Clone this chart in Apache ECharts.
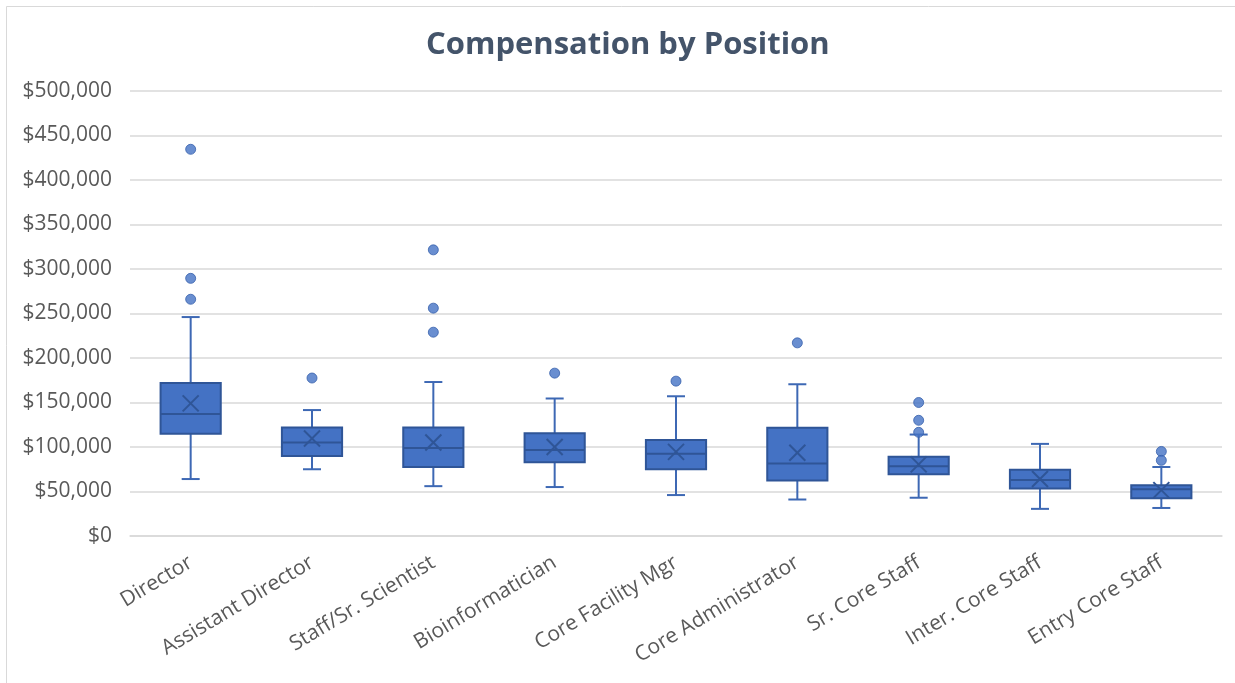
<!DOCTYPE html>
<html>
<head>
<meta charset="utf-8">
<script src="https://cdn.jsdelivr.net/npm/echarts@6/dist/echarts.min.js"></script>
<style>
  html, body { margin: 0; padding: 0; background: #ffffff; }
  #chart { width: 1235px; height: 683px; }
</style>
</head>
<body>
<div id="chart"></div>
<script>
// Positions shown on the category axis
const positions = [
  'Director', 'Assistant Director', 'Staff/Sr. Scientist', 'Bioinformatician',
  'Core Facility Mgr', 'Core Administrator', 'Sr. Core Staff', 'Inter. Core Staff', 'Entry Core Staff'
];

// Five-number summaries per position: [lower whisker, Q1, median, Q3, upper whisker]
const whiskerLow = [64000, 75000, 56000, 55000, 46000, 41000, 43000, 30500, 31500];
const quartile1  = [115000, 90000, 77500, 83000, 75000, 62500, 69500, 53500, 42500];
const medians    = [137000, 105000, 99000, 96500, 92500, 81500, 78500, 63000, 52500];
const quartile3  = [172000, 122000, 122000, 115500, 108000, 121500, 89000, 74500, 57000];
const whiskerHigh = [246000, 141500, 173000, 154500, 157000, 170500, 114000, 103500, 77500];

// Mean salary per position (drawn as an X)
const means = [149000, 109500, 105000, 100000, 94500, 93500, 80500, 64000, 51500];

// Outlying salaries: [position index, salary]
const outliers = [
  [0, 434500], [0, 289500], [0, 266000],
  [1, 177500],
  [2, 321500], [2, 256000], [2, 229000],
  [3, 183000],
  [4, 174000],
  [5, 217000],
  [6, 150000], [6, 130000], [6, 116500],
  [8, 95000], [8, 85000]
];

// Y-axis range
const yMin = 0, yMax = 500000, yStep = 50000;

const boxFill = '#4472C4';
const boxEdge = '#2F5597';
const whiskerColor = '#3D68B4';

const boxData = positions.map((p, i) => [
  i, whiskerLow[i], quartile1[i], medians[i], quartile3[i], whiskerHigh[i], means[i]
]);

function renderBox(params, api) {
  const i = api.value(0);
  const catW = api.size([1, 0])[0];
  const half = catW * 0.248;
  const capHalf = 9;
  const xPos = api.coord([i, 0])[0];
  const yLo = api.coord([i, api.value(1)])[1];
  const yQ1 = api.coord([i, api.value(2)])[1];
  const yMed = api.coord([i, api.value(3)])[1];
  const yQ3 = api.coord([i, api.value(4)])[1];
  const yHi = api.coord([i, api.value(5)])[1];
  const yMean = api.coord([i, api.value(6)])[1];
  const lineStyle = { stroke: whiskerColor, lineWidth: 2, fill: null };
  const xr = 8;
  return {
    type: 'group',
    children: [
      { type: 'line', shape: { x1: xPos, y1: yQ3, x2: xPos, y2: yHi }, style: lineStyle },
      { type: 'line', shape: { x1: xPos, y1: yQ1, x2: xPos, y2: yLo }, style: lineStyle },
      { type: 'line', shape: { x1: xPos - capHalf, y1: yHi, x2: xPos + capHalf, y2: yHi }, style: lineStyle },
      { type: 'line', shape: { x1: xPos - capHalf, y1: yLo, x2: xPos + capHalf, y2: yLo }, style: lineStyle },
      {
        type: 'rect',
        shape: { x: xPos - half, y: yQ3, width: half * 2, height: yQ1 - yQ3 },
        style: { fill: boxFill, stroke: boxEdge, lineWidth: 2 }
      },
      { type: 'line', shape: { x1: xPos - half, y1: yMed, x2: xPos + half, y2: yMed }, style: { stroke: boxEdge, lineWidth: 2 } },
      { type: 'line', shape: { x1: xPos - xr, y1: yMean - xr, x2: xPos + xr, y2: yMean + xr }, style: { stroke: boxEdge, lineWidth: 2 } },
      { type: 'line', shape: { x1: xPos - xr, y1: yMean + xr, x2: xPos + xr, y2: yMean - xr }, style: { stroke: boxEdge, lineWidth: 2 } }
    ]
  };
}

const chart = echarts.init(document.getElementById('chart'), null, { renderer: 'canvas' });

chart.setOption({
  animation: false,
  backgroundColor: '#ffffff',
  title: {
    text: 'Compensation by Position',
    left: 421,
    top: 25,
    textStyle: { fontFamily: 'Open Sans', fontWeight: 'bold', fontSize: 31, color: '#44546A' }
  },
  graphic: [{
    type: 'rect',
    shape: { x: 6.5, y: 6.5, width: 1240, height: 700 },
    style: { fill: null, stroke: '#D9D9D9', lineWidth: 1 },
    silent: true
  }],
  grid: { left: 130, right: 13, top: 91, bottom: 147 },
  xAxis: {
    type: 'category',
    data: positions,
    boundaryGap: true,
    axisLine: { show: true, lineStyle: { color: '#D9D9D9', width: 1.5 } },
    axisTick: { show: false },
    axisLabel: {
      rotate: 31,
      interval: 0,
      margin: 25,
      fontFamily: 'Open Sans',
      fontSize: 21,
      color: '#595959'
    },
    splitLine: { show: false }
  },
  yAxis: {
    type: 'value',
    min: yMin,
    max: yMax,
    interval: yStep,
    axisLine: { show: false },
    axisTick: { show: false },
    axisLabel: {
      margin: 18,
      fontFamily: 'Open Sans',
      fontSize: 21,
      color: '#595959',
      formatter: v => '$' + v.toLocaleString('en-US')
    },
    splitLine: { lineStyle: { color: '#D9D9D9', width: 1.5 } }
  },
  series: [
    {
      type: 'custom',
      renderItem: renderBox,
      data: boxData,
      encode: { x: 0, y: [1, 2, 3, 4, 5, 6] },
      z: 2
    },
    {
      type: 'scatter',
      data: outliers,
      symbol: 'circle',
      symbolSize: 10,
      itemStyle: { color: boxFill, borderColor: '#3861AD', borderWidth: 1 },
      z: 3
    }
  ]
});
</script>
</body>
</html>
